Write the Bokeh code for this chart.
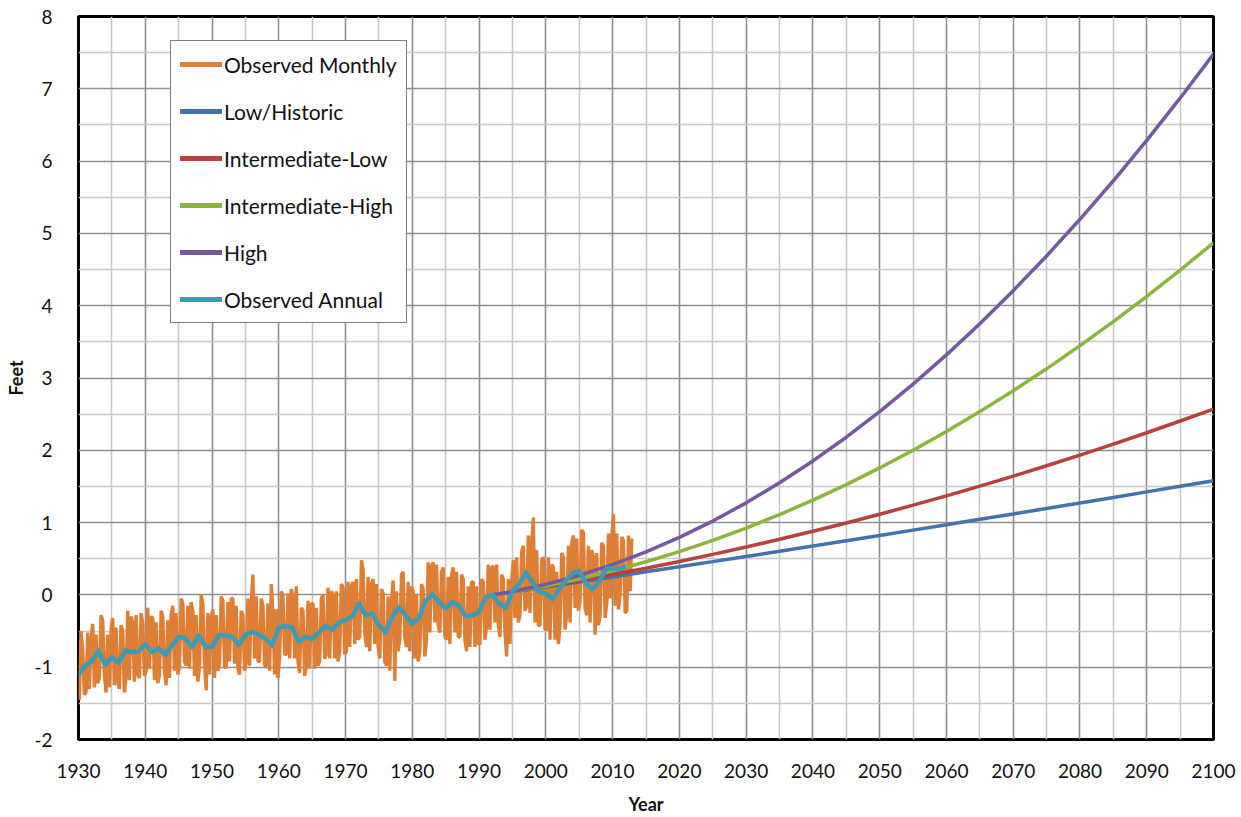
from bokeh.plotting import figure
from bokeh.models import Range1d, FixedTicker, Legend, LegendItem
from bokeh.embed import file_html
from bokeh.resources import INLINE

# ---- Observed monthly water level (feet), four readings per year, 1930-2012 ----
monthly_years = list(range(1930, 2013))
monthly_values = [
    -1.45, -0.50, -0.75, -1.38,   # 1930
    -1.35, -0.52, -1.30, -0.62,   # 1931
    -0.40, -1.28, -0.55, -1.22,   # 1932
    -1.15, -0.28, -0.35, -1.10,   # 1933
    -1.35, -0.55, -1.28, -0.48,   # 1934
    -0.32, -1.25, -0.45, -1.20,   # 1935
    -1.30, -0.42, -0.50, -1.35,   # 1936
    -1.12, -0.22, -1.18, -0.30,   # 1937
    -0.38, -1.20, -0.28, -1.10,   # 1938
    -1.15, -0.25, -0.40, -1.12,   # 1939
    -1.05, -0.18, -1.02, -0.30,   # 1940
    -0.32, -1.18, -0.38, -1.22,   # 1941
    -1.12, -0.22, -0.30, -1.05,   # 1942
    -1.25, -0.35, -1.15, -0.28,   # 1943
    -0.15, -1.05, -0.25, -1.10,   # 1944
    -1.00, -0.05, -0.12, -0.92,   # 1945
    -0.98, -0.15, -1.02, -0.10,   # 1946
    -0.22, -1.12, -0.28, -1.20,   # 1947
    -1.00,  0.00, -0.12, -0.95,   # 1948
    -1.32, -0.25, -1.10, -0.30,   # 1949
    -0.20, -1.15, -0.28, -1.05,   # 1950
    -0.95, -0.02, -0.08, -1.00,   # 1951
    -1.00, -0.10, -0.92, -0.05,   # 1952
    -0.05, -0.95, -0.15, -1.02,   # 1953
    -1.10, -0.22, -0.28, -1.05,   # 1954
    -0.92, -0.05, -0.98, -0.12,   # 1955
     0.28, -0.88, -0.02, -0.92,   # 1956
    -0.92, -0.05, -0.15, -0.98,   # 1957
    -0.98, -0.12, -1.05,  0.15,   # 1958
    -0.25, -1.10, -0.20, -1.15,   # 1959
    -0.85,  0.05, -0.02, -0.82,   # 1960
    -0.82,  0.02, -0.88,  0.08,   # 1961
    -0.02, -0.88,  0.12, -0.92,   # 1962
    -1.08, -0.18, -0.22, -1.12,   # 1963
    -0.98, -0.08, -1.02, -0.12,   # 1964
    -0.12, -1.02, -0.18, -0.98,   # 1965
    -0.92, -0.05,  0.00, -0.88,   # 1966
    -0.82,  0.10, -0.88,  0.05,   # 1967
     0.00, -0.88,  0.05, -0.92,   # 1968
    -0.78,  0.15,  0.10, -0.82,   # 1969
    -0.78,  0.18, -0.72,  0.12,   # 1970
     0.18, -0.68,  0.22, -0.62,   # 1971
    -0.58,  0.48,  0.35, -0.52,   # 1972
    -0.72,  0.25, -0.78,  0.15,   # 1973
     0.22, -0.68,  0.15, -0.72,   # 1974
    -0.88,  0.08,  0.02, -0.92,   # 1975
    -0.98, -0.02, -1.05, -0.08,   # 1976
     0.20, -1.19,  0.05, -0.78,   # 1977
    -0.62,  0.28,  0.32, -0.58,   # 1978
    -0.72,  0.18, -0.78,  0.12,   # 1979
     0.05, -0.88,  0.00, -0.92,   # 1980
    -0.78,  0.15,  0.08, -0.85,   # 1981
    -0.62,  0.45, -0.52,  0.40,   # 1982
     0.45, -0.38,  0.42, -0.42,   # 1983
    -0.52,  0.32,  0.38, -0.58,   # 1984
    -0.62,  0.25, -0.68,  0.28,   # 1985
     0.38, -0.52,  0.32, -0.58,   # 1986
    -0.58,  0.28,  0.22, -0.62,   # 1987
    -0.78,  0.12, -0.72,  0.18,   # 1988
     0.18, -0.72,  0.12, -0.68,   # 1989
    -0.68,  0.22,  0.18, -0.62,   # 1990
    -0.42,  0.42, -0.48,  0.38,   # 1991
     0.40, -0.38,  0.42, -0.42,   # 1992
    -0.58,  0.28,  0.22, -0.52,   # 1993
    -0.85,  0.22, -0.68,  0.18,   # 1994
     0.48, -0.32,  0.52, -0.38,   # 1995
    -0.28,  0.60,  0.68, -0.22,   # 1996
    -0.15,  0.82, -0.25,  0.72,   # 1997
     1.07, -0.38,  0.62, -0.42,   # 1998
    -0.42,  0.48,  0.52, -0.48,   # 1999
    -0.48,  0.52, -0.62,  0.42,   # 2000
     0.38, -0.62,  0.32, -0.68,   # 2001
    -0.42,  0.58,  0.52, -0.48,   # 2002
    -0.28,  0.68, -0.38,  0.72,   # 2003
     0.82, -0.18,  0.78, -0.22,   # 2004
    -0.08,  0.90,  0.86, -0.18,   # 2005
    -0.28,  0.68, -0.38,  0.62,   # 2006
     0.52, -0.55,  0.58, -0.42,   # 2007
    -0.28,  0.72,  0.68, -0.32,   # 2008
    -0.12,  0.85, -0.05,  0.80,   # 2009
     1.12, -0.15,  0.85, -0.20,   # 2010
     0.00,  0.80,  0.75, -0.25,   # 2011
    -0.22,  0.82,  0.05,  0.78,   # 2012
]
monthly_x = [y + 0.125 + 0.25 * k for y in monthly_years for k in range(4)]

# ---- Observed annual mean (feet) ----
annual_years = list(range(1930, 2013))
annual_values = [
    -1.10, -0.98, -0.92, -0.77, -0.97, -0.86, -0.94, -0.77, -0.79, -0.78,
    -0.68, -0.79, -0.74, -0.83, -0.70, -0.58, -0.60, -0.72, -0.56, -0.72,
    -0.72, -0.56, -0.56, -0.58, -0.69, -0.55, -0.51, -0.55, -0.60, -0.70,
    -0.45, -0.43, -0.45, -0.65, -0.58, -0.61, -0.52, -0.43, -0.48, -0.38,
    -0.35, -0.30, -0.12, -0.28, -0.26, -0.42, -0.52, -0.30, -0.17, -0.28,
    -0.40, -0.32, -0.08, 0.01, -0.10, -0.19, -0.10, -0.15, -0.30, -0.28,
    -0.24, -0.03, 0.00, -0.12, -0.18, 0.05, 0.15, 0.31, 0.18, 0.04,
    0.02, -0.06, 0.08, 0.20, 0.30, 0.33, 0.16, 0.08, 0.18, 0.36,
    0.37, 0.36, 0.39,
]

# ---- Sea level rise scenarios (feet, relative to 1992) ----
scenario_years = [1992, 1995, 2000, 2005, 2010, 2015, 2020, 2025, 2030, 2035, 2040,
                  2045, 2050, 2055, 2060, 2065, 2070, 2075, 2080, 2085, 2090, 2095, 2100]
low_historic = [0.0, 0.041, 0.110, 0.179, 0.249, 0.319, 0.389, 0.460, 0.532, 0.604, 0.676,
                0.749, 0.822, 0.896, 0.970, 1.045, 1.120, 1.196, 1.272, 1.348, 1.425, 1.503, 1.580]
intermediate_low = [0.0, 0.043, 0.117, 0.197, 0.281, 0.369, 0.462, 0.560, 0.662, 0.769, 0.880,
                    0.995, 1.116, 1.241, 1.370, 1.504, 1.643, 1.786, 1.934, 2.086, 2.243, 2.405, 2.570]
intermediate_high = [0.0, 0.042, 0.124, 0.220, 0.332, 0.458, 0.599, 0.755, 0.925, 1.111, 1.311,
                     1.526, 1.756, 2.001, 2.260, 2.535, 2.824, 3.127, 3.447, 3.780, 4.129, 4.491, 4.870]
high = [0.0, 0.047, 0.145, 0.269, 0.419, 0.594, 0.795, 1.021, 1.273, 1.550, 1.853,
        2.181, 2.535, 2.915, 3.320, 3.750, 4.207, 4.688, 5.195, 5.728, 6.287, 6.870, 7.480]

x_ticks = list(range(1930, 2101, 10))
x_minor = list(range(1935, 2100, 10))
y_ticks = list(range(-2, 9))
y_minor = [v + 0.5 for v in range(-2, 8)]

FONT = "Lato"
COLORS = {
    "monthly": "#DF7F35",
    "low": "#4472AA",
    "int_low": "#B5423E",
    "int_high": "#8DB43E",
    "high": "#7459A0",
    "annual": "#3A9CB8",
}

p = figure(width=1241, height=817, output_backend="svg", toolbar_location=None,
           x_range=Range1d(1930, 2100), y_range=Range1d(-2, 8),
           min_border_left=78, min_border_right=28, min_border_top=16, min_border_bottom=76)

p.background_fill_color = "white"
p.border_fill_color = "white"
p.outline_line_color = "black"
p.outline_line_width = 3

for ax in (p.xaxis[0], p.yaxis[0]):
    ax.axis_line_color = None
    ax.major_tick_line_color = None
    ax.minor_tick_line_color = None
    ax.major_tick_in = 0
    ax.major_tick_out = 0
    ax.minor_tick_in = 0
    ax.minor_tick_out = 0
    ax.major_label_text_font = FONT
    ax.major_label_text_font_size = "19px"
    ax.major_label_text_color = "#111111"
    ax.axis_label_text_font = FONT
    ax.axis_label_text_font_size = "18px"
    ax.axis_label_text_font_style = "bold"
    ax.axis_label_text_color = "#111111"

p.xaxis.ticker = FixedTicker(ticks=x_ticks, minor_ticks=x_minor)
p.yaxis.ticker = FixedTicker(ticks=y_ticks, minor_ticks=y_minor)
p.yaxis.major_label_overrides = {t: str(t) for t in y_ticks}
p.xaxis.axis_label = "Year"
p.yaxis.axis_label = "Feet"
p.xaxis.major_label_standoff = 24
p.xaxis.axis_label_standoff = 12
p.yaxis.major_label_standoff = 26
p.yaxis.axis_label_standoff = 4

for g in (p.xgrid[0], p.ygrid[0]):
    g.grid_line_color = "#8e8e8e"
    g.grid_line_width = 1.6
    g.minor_grid_line_color = "#c8c8c8"
    g.minor_grid_line_width = 1.6

r_monthly = p.line(monthly_x, monthly_values, line_color=COLORS["monthly"], line_width=3.4)
r_low = p.line(scenario_years, low_historic, line_color=COLORS["low"], line_width=3.5)
r_il = p.line(scenario_years, intermediate_low, line_color=COLORS["int_low"], line_width=3.5)
r_ih = p.line(scenario_years, intermediate_high, line_color=COLORS["int_high"], line_width=3.5)
r_high = p.line(scenario_years, high, line_color=COLORS["high"], line_width=3.5)
r_annual = p.line(annual_years, annual_values, line_color=COLORS["annual"], line_width=4.5,
                  line_join="round")

# heavier single-point lines used only as legend swatches (a lone point draws nothing)
swatch = {k: p.line([scenario_years[0]], [high[0]], line_color=c, line_width=5, line_cap="round")
          for k, c in COLORS.items()}

legend = Legend(items=[
    LegendItem(label="Observed Monthly", renderers=[swatch["monthly"]]),
    LegendItem(label="Low/Historic", renderers=[swatch["low"]]),
    LegendItem(label="Intermediate-Low", renderers=[swatch["int_low"]]),
    LegendItem(label="Intermediate-High", renderers=[swatch["int_high"]]),
    LegendItem(label="High", renderers=[swatch["high"]]),
    LegendItem(label="Observed Annual", renderers=[swatch["annual"]]),
], location=(92, 416))
legend.label_text_font = FONT
legend.label_text_font_size = "21px"
legend.label_text_color = "#111111"
legend.glyph_width = 42
legend.glyph_height = 28
legend.label_height = 28
legend.spacing = 19
legend.padding = 9
legend.margin = 0
legend.label_standoff = 2
legend.border_line_color = "black"
legend.border_line_width = 1.5
legend.background_fill_color = "white"
legend.background_fill_alpha = 1.0
p.add_layout(legend)

open("out.html", "w").write(file_html(p, INLINE))
